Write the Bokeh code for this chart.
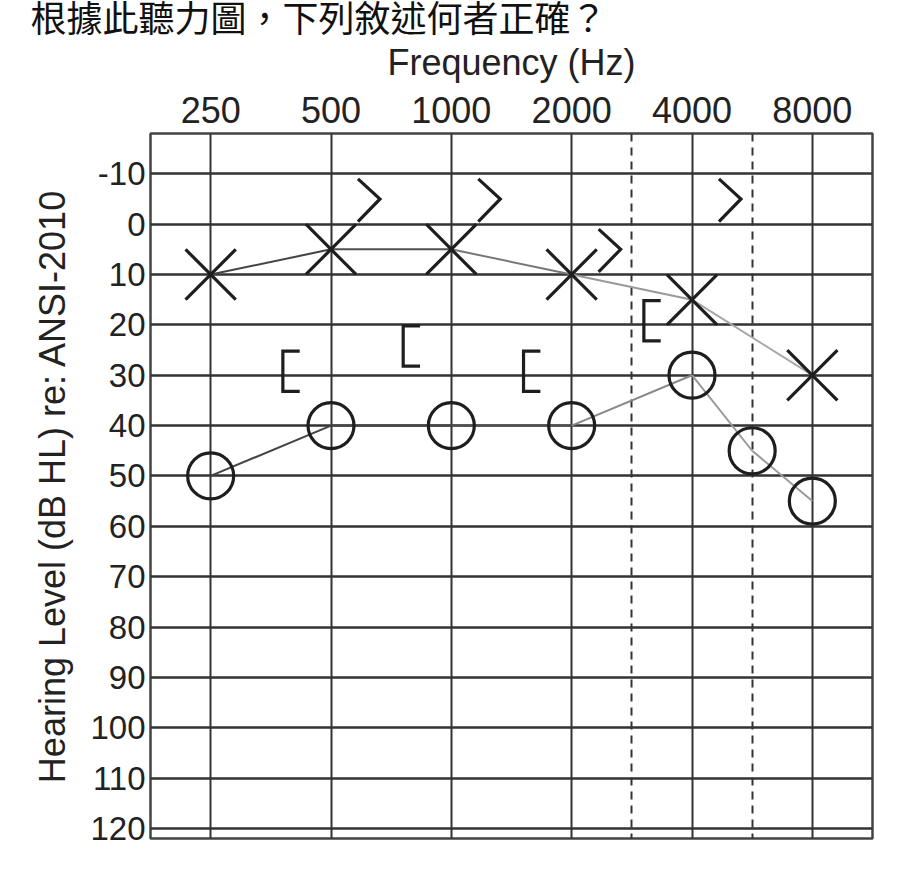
import numpy as np
from bokeh.plotting import figure
from bokeh.models import Range1d, FixedTicker, Grid
from bokeh.embed import file_html
from bokeh.resources import INLINE

title_text = "根據此聽力圖，下列敘述何者正確？"
tick_freqs = [250, 500, 1000, 2000, 4000, 8000]
mid_freqs = [3000, 6000]
db_ticks = list(range(-10, 121, 10))

# air conduction, X
left_air_freq = [250, 500, 1000, 2000, 4000, 8000]
left_air_db = [10, 5, 5, 10, 15, 30]
# air conduction, O
right_air_freq = [250, 500, 1000, 2000, 4000, 6000, 8000]
right_air_db = [50, 40, 40, 40, 30, 45, 55]
# bone conduction, >
left_bone_freq = [500, 1000, 2000, 4000]
left_bone_db = [-5, -5, 5, -5]
# bone conduction masked, [
right_bone_freq = [500, 1000, 2000, 4000]
right_bone_db = [30, 25, 30, 20]

# the joining lines fade from dark to light grey in the scan
left_seg_colors = ["#444444", "#505050", "#777777", "#999999", "#a8a8a8"]
right_seg_colors = ["#444444", "#444444", "#505050", "#888888", "#999999", "#9a9a9a"]


def pos(f):
    # audiogram columns: one per octave, 3k/6k on the half step
    return np.round(2 * np.log2(np.asarray(f) / 250.0)) / 2


grid_col = "#333333"
ink = "#1e1e1e"
txt = "#222222"

p = figure(width=892, height=863,
           x_range=Range1d(-0.5, 5.5), y_range=Range1d(122, -18),
           x_axis_location="above",
           min_border_left=150, min_border_top=133,
           min_border_right=20, min_border_bottom=25,
           output_backend="svg", toolbar_location=None)

p.title.text = title_text
p.title.align = "left"
p.title.vertical_align = "top"
p.title.offset = -120
p.title.standoff = -7
# latin metrics keep the title band short; the CJK glyphs come from Noto
p.title.text_font = "Liberation Sans, Noto Sans CJK TC"
p.title.text_font_size = "36px"
p.title.text_font_style = "normal"
p.title.text_color = "#111111"

p.outline_line_color = "#444444"
p.outline_line_width = 2.5

# grid
x_ticks = [float(t) for t in pos(tick_freqs)]
p.xgrid.ticker = FixedTicker(ticks=x_ticks)
p.xgrid.grid_line_color = grid_col
p.xgrid.grid_line_width = 2
p.ygrid.ticker = FixedTicker(ticks=db_ticks)
p.ygrid.grid_line_color = grid_col
p.ygrid.grid_line_width = 2.5
mid = Grid(dimension=0, ticker=FixedTicker(ticks=[float(t) for t in pos(mid_freqs)]),
           grid_line_color=grid_col, grid_line_width=2, grid_line_dash="8 6")
p.add_layout(mid)

# axes
p.xaxis.ticker = FixedTicker(ticks=x_ticks)
p.xaxis.major_label_overrides = {t: str(f) for t, f in zip(x_ticks, tick_freqs)}
p.yaxis.ticker = FixedTicker(ticks=db_ticks)
p.yaxis.major_label_overrides = {d: str(d) for d in db_ticks}
p.xaxis.axis_label = "Frequency (Hz)"
p.yaxis.axis_label = "Hearing Level (dB HL) re: ANSI-2010"
for ax in (p.xaxis, p.yaxis):
    ax.axis_line_color = None
    ax.major_tick_line_color = None
    ax.minor_tick_line_color = None
    ax.major_tick_out = 0
    ax.major_tick_in = 0
    ax.major_label_text_font = "Liberation Sans"
    ax.major_label_text_color = txt
    ax.axis_label_text_font = "Liberation Sans"
    ax.axis_label_text_font_style = "normal"
    ax.axis_label_text_color = txt
    ax.axis_label_text_font_size = "36px"
p.xaxis.major_label_text_font_size = "36px"
p.xaxis.major_label_standoff = 11
p.xaxis.axis_label_standoff = 11
p.yaxis.major_label_text_font_size = "33px"
p.yaxis.major_label_standoff = 5
p.yaxis.axis_label_standoff = 14

# connecting lines, one segment per pair of neighbouring points
lx, rx_ = pos(left_air_freq), pos(right_air_freq)
p.segment(lx[:-1], left_air_db[:-1], lx[1:], left_air_db[1:],
          line_color=left_seg_colors, line_width=2)
p.segment(rx_[:-1], right_air_db[:-1], rx_[1:], right_air_db[1:],
          line_color=right_seg_colors, line_width=2)

# symbols
p.scatter(lx, left_air_db, marker="x", size=71,
          line_color=ink, line_width=3.2)
p.scatter(rx_, right_air_db, marker="circle", size=46,
          fill_color=None, line_color=ink, line_width=3.2)

bx = pos(left_bone_freq)
p.multi_line([[x + 0.224, x + 0.407, x + 0.224] for x in bx],
             [[v - 4, v, v + 4.5] for v in left_bone_db],
             line_color=ink, line_width=3.2, line_join="miter")

rx = pos(right_bone_freq)
p.multi_line([[x - 0.26, x - 0.40, x - 0.40, x - 0.26] for x in rx],
             [[v - 4.8, v - 4.8, v + 3.2, v + 3.2] for v in right_bone_db],
             line_color=ink, line_width=3.2, line_join="miter")

open("out.html", "w").write(file_html(p, INLINE))
